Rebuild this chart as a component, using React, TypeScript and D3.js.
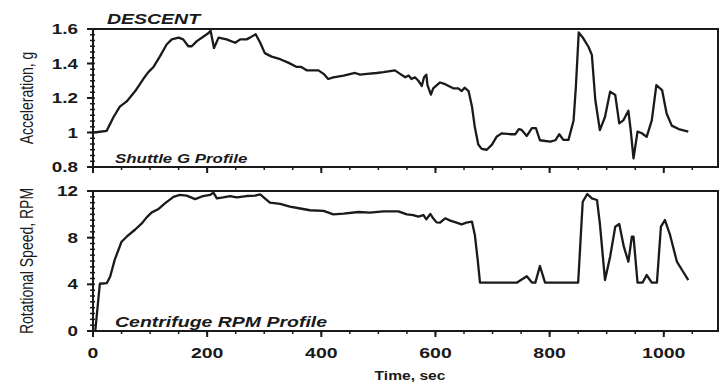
import * as d3 from 'd3';

// Shuttle G profile (time in sec, acceleration in g)
const accelTime = [2, 24, 30, 36, 47, 59, 74, 88, 97, 106, 117, 129, 138, 150, 158, 167, 173, 182, 193, 202, 206, 212, 220, 234, 249, 258, 269, 275, 285, 293, 301, 313, 328, 342, 357, 365, 375, 386, 395, 404, 412, 421, 439, 459, 468, 480, 497, 509, 529, 538, 547, 553, 558, 564, 570, 576, 580, 584, 586, 592, 596, 608, 617, 631, 640, 646, 651, 658, 664, 669, 675, 681, 690, 699, 707, 716, 731, 740, 746, 751, 760, 769, 776, 783, 801, 810, 817, 824, 833, 842, 846, 851, 859, 868, 874, 880, 888, 897, 906, 915, 922, 929, 938, 942, 947, 954, 961, 970, 979, 987, 997, 1005, 1014, 1026, 1043];
const accelValue = [1.0, 1.01, 1.05, 1.09, 1.15, 1.18, 1.24, 1.31, 1.35, 1.38, 1.44, 1.51, 1.54, 1.55, 1.54, 1.5, 1.5, 1.53, 1.555, 1.575, 1.59, 1.49, 1.55, 1.54, 1.52, 1.54, 1.54, 1.55, 1.57, 1.52, 1.46, 1.44, 1.425, 1.405, 1.38, 1.38, 1.36, 1.36, 1.36, 1.34, 1.31, 1.32, 1.33, 1.345, 1.335, 1.34, 1.345, 1.35, 1.36, 1.34, 1.32, 1.33, 1.31, 1.32, 1.3, 1.27, 1.32, 1.335, 1.275, 1.22, 1.256, 1.29, 1.28, 1.256, 1.256, 1.24, 1.26, 1.24, 1.15, 1.03, 0.93, 0.905, 0.9, 0.93, 0.975, 0.995, 0.99, 0.99, 1.02, 1.015, 0.98, 1.025, 1.025, 0.955, 0.947, 0.955, 0.99, 0.957, 0.957, 1.07, 1.265, 1.58, 1.546, 1.497, 1.45, 1.19, 1.014, 1.09, 1.237, 1.217, 1.053, 1.07, 1.126, 1.015, 0.85, 1.005, 0.997, 0.975, 1.07, 1.275, 1.246, 1.11, 1.04, 1.02, 1.005];

// Centrifuge RPM profile (time in sec, RPM)
const rpmTime = [4, 12, 24, 30, 38, 50, 59, 74, 85, 94, 103, 114, 126, 141, 152, 164, 179, 193, 205, 211, 217, 228, 240, 252, 269, 284, 293, 301, 310, 328, 345, 363, 380, 404, 421, 439, 465, 485, 509, 535, 550, 561, 570, 579, 584, 591, 596, 602, 608, 617, 626, 637, 646, 654, 664, 669, 674, 678, 743, 760, 769, 775, 783, 792, 850, 858, 866, 874, 883, 888, 897, 906, 915, 922, 930, 938, 944, 947, 954, 963, 970, 979, 988, 995, 1002, 1011, 1023, 1032, 1043];
const rpmValue = [0, 4.05, 4.1, 4.65, 6.1, 7.65, 8.08, 8.7, 9.2, 9.74, 10.17, 10.43, 10.94, 11.5, 11.66, 11.6, 11.3, 11.57, 11.66, 11.86, 11.37, 11.45, 11.57, 11.45, 11.57, 11.6, 11.71, 11.37, 11.0, 10.9, 10.66, 10.5, 10.35, 10.29, 10.0, 10.06, 10.2, 10.14, 10.26, 10.26, 10.0, 9.94, 9.8, 9.94, 9.57, 10.03, 9.66, 9.31, 9.29, 9.66, 9.46, 9.29, 9.14, 9.29, 9.37, 8.23, 6.1, 4.15, 4.15, 4.7, 4.15, 4.15, 5.57, 4.15, 4.15, 11.08, 11.74, 11.37, 11.23, 9.23, 4.37, 6.37, 8.94, 9.17, 7.23, 5.94, 8.08, 8.08, 4.15, 4.15, 4.8, 4.15, 4.15, 8.94, 9.51, 8.23, 5.94, 5.23, 4.37];

const timeTicks = [0, 200, 400, 600, 800, 1000];
const accelTicks = [0.8, 1, 1.2, 1.4, 1.6];
const rpmTicks = [0, 4, 8, 12];

const W = 721;
const H = 383;
const INK = '#1a1a1a';
const SX = 1.3; // the scanned text is stretched sideways

const x = d3.scaleLinear().domain([0, 1095]).range([93, 718]);
const yAccel = d3.scaleLinear().domain([0.8, 1.6]).range([167, 29]);
const yRpm = d3.scaleLinear().domain([0, 12]).range([331, 191]);

function Label({ x, y, text, size, anchor = 'start', weight = 'bold', italic = false }: {
  x: number; y: number; text: string; size: number; anchor?: string; weight?: string; italic?: boolean;
}) {
  return (
    <text
      transform={`translate(${x},${y}) scale(${SX},1)`}
      textAnchor={anchor}
      fontSize={size}
      fontWeight={weight}
      fontStyle={italic ? 'italic' : 'normal'}
      fill={INK}
    >
      {text}
    </text>
  );
}

function Panel({ times, values, y, ticks, minorStep, fmt, title, name }: {
  times: number[]; values: number[]; y: d3.ScaleLinear<number, number>;
  ticks: number[]; minorStep: number; fmt: (v: number) => string; title: string; name: string;
}) {
  const [y0, y1] = y.domain();
  const [xl, xr] = x.range();
  const [yb, yt] = y.range();
  const pts = times.map((t, i) => [t, values[i]] as [number, number]);
  const line = d3.line<[number, number]>().x(d => x(d[0])).y(d => y(d[1]));
  const minorY = d3.range(y0, y1 + minorStep / 2, minorStep);
  const minorX = d3.range(0, 1095, 50);
  const midY = (yb + yt) / 2;

  return (
    <g>
      <rect x={xl} y={yt} width={xr - xl} height={yb - yt} fill="none" stroke={INK} strokeWidth={2} />
      {minorY.map(v => (
        <line key={'my' + v} x1={xl - 3} x2={xl + 2} y1={y(v)} y2={y(v)} stroke={INK} strokeWidth={1.5} />
      ))}
      {ticks.map(v => (
        <g key={'y' + v}>
          <line x1={xl - 6} x2={xl} y1={y(v)} y2={y(v)} stroke={INK} strokeWidth={2} />
          <Label x={xl - 15} y={y(v) + 5} text={fmt(v)} size={14.5} anchor="end" />
        </g>
      ))}
      {minorX.map(t => (
        <line key={'mx' + t} x1={x(t)} x2={x(t)} y1={yb} y2={yb + 3} stroke={INK} strokeWidth={1.5} />
      ))}
      {timeTicks.map(t => (
        <line key={'x' + t} x1={x(t)} x2={x(t)} y1={yb} y2={yb + 6} stroke={INK} strokeWidth={2} />
      ))}
      <path d={line(pts) ?? ''} fill="none" stroke={INK} strokeWidth={2.3} strokeLinejoin="round" />
      <Label x={xl + 22} y={yb - 4} text={name} size={name.length > 18 ? 15 : 13} italic />
      <text
        transform={`translate(33,${midY}) rotate(-90) scale(1,1.25)`}
        textAnchor="middle"
        fontSize={14}
        fill={INK}
      >
        {title}
      </text>
    </g>
  );
}

export default function App() {
  const yb = yRpm.range()[0];
  return (
    <svg
      width={W}
      height={H}
      style={{ position: 'absolute', left: 0, top: 0, background: '#fff', fontFamily: '"Liberation Sans", Arial, sans-serif' }}
    >
      <Label x={107} y={24} text="DESCENT" size={15} italic />
      <Panel
        times={accelTime}
        values={accelValue}
        y={yAccel}
        ticks={accelTicks}
        minorStep={0.2 / 6}
        fmt={v => String(+v.toFixed(1))}
        title="Acceleration, g"
        name="Shuttle G Profile"
      />
      <Panel
        times={rpmTime}
        values={rpmValue}
        y={yRpm}
        ticks={rpmTicks}
        minorStep={0.5}
        fmt={v => String(v)}
        title="Rotational Speed, RPM"
        name="Centrifuge RPM Profile"
      />
      {timeTicks.map(t => (
        <Label key={t} x={x(t)} y={yb + 27} text={String(t)} size={15} anchor="middle" />
      ))}
      <Label x={410} y={380} text="Time, sec" size={12} anchor="middle" />
    </svg>
  );
}
